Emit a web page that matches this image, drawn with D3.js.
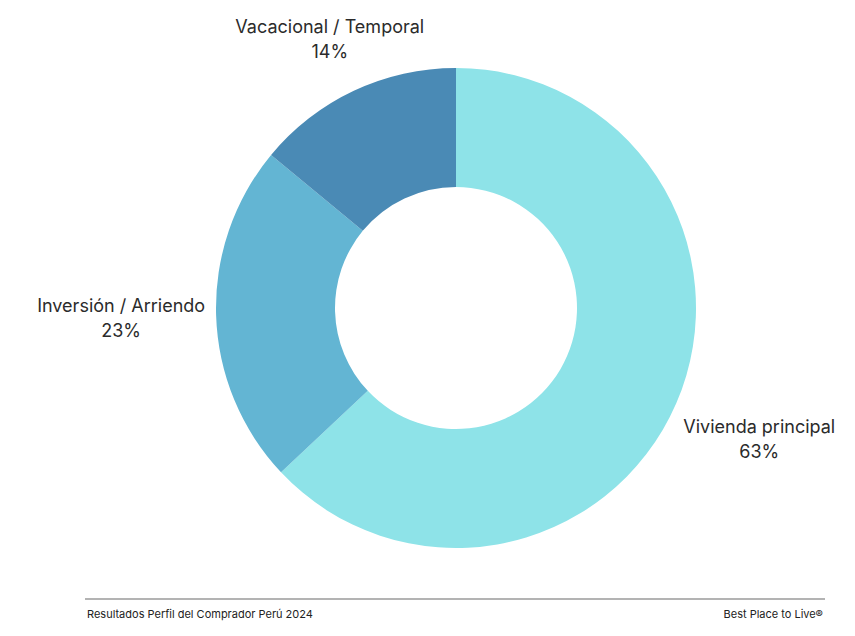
<!DOCTYPE html>
<html>
<head>
<meta charset="utf-8">
<script src="https://cdn.jsdelivr.net/npm/d3@7"></script>
<style>
  body { margin: 0; background: #fff; }
  svg text { font-family: Inter, "Open Sans", sans-serif; }
</style>
</head>
<body>
<div id="chart"></div>
<script>
const categories = ["Vivienda principal", "Inversión / Arriendo", "Vacacional / Temporal"];
const values = [63, 23, 14];
const colors = ["#8ee3e8", "#63b5d3", "#4a8ab5"];
const footerLeft = "Resultados Perfil del Comprador Perú 2024";
const footerRight = "Best Place to Live®";

const width = 855, height = 636;
const cx = 456, cy = 308;
const outer = 240, inner = 121;

const svg = d3.select("#chart").append("svg")
    .attr("width", width)
    .attr("height", height);

const pie = d3.pie().sort(null).value(d => d.value);
const arc = d3.arc().innerRadius(inner).outerRadius(outer);

const slices = pie(categories.map((c, i) => ({ name: c, value: values[i], color: colors[i] })));

const g = svg.append("g").attr("transform", `translate(${cx},${cy})`);

g.selectAll("path")
    .data(slices)
    .enter()
    .append("path")
    .attr("d", arc)
    .attr("fill", d => d.data.color);

// labels: two-line block placed outside the ring along the mid angle
const lineH = 25, fontSize = 18;
const labels = g.selectAll("g.label")
    .data(slices)
    .enter()
    .append("g")
    .attr("class", "label");

labels.append("text")
    .attr("text-anchor", "middle")
    .attr("font-size", fontSize)
    .attr("fill", "#2b2b2b")
    .attr("y", -lineH / 2 + 6)
    .text(d => d.data.name);

labels.append("text")
    .attr("text-anchor", "middle")
    .attr("font-size", fontSize)
    .attr("fill", "#2b2b2b")
    .attr("y", lineH / 2 + 6)
    .text(d => d.data.value + "%");

labels.attr("transform", function(d) {
    const a = (d.startAngle + d.endAngle) / 2;
    const s = Math.sin(a), c = -Math.cos(a);
    const w = d3.max(d3.select(this).selectAll("text").nodes(), n => n.getComputedTextLength());
    const hw = w / 2, hh = 24;
    const ex = Math.abs(s) > 1e-6 ? hw / Math.abs(s) : Infinity;
    const ey = Math.abs(c) > 1e-6 ? hh / Math.abs(c) : Infinity;
    // side labels sit closer to the ring than top/bottom ones
    const r = ex < ey ? outer + 11 + ex : outer + 30 + ey;
    return `translate(${s * r},${c * r})`;
});

// footer
svg.append("line")
    .attr("x1", 85).attr("x2", 825)
    .attr("y1", 599).attr("y2", 599)
    .attr("stroke", "#9a9a9a")
    .attr("stroke-width", 1.5);

svg.append("text")
    .attr("x", 87).attr("y", 618)
    .attr("font-size", 11)
    .attr("fill", "#222")
    .text(footerLeft);

svg.append("text")
    .attr("x", 823).attr("y", 618)
    .attr("text-anchor", "end")
    .attr("font-size", 11)
    .attr("fill", "#222")
    .text(footerRight);
</script>
</body>
</html>
